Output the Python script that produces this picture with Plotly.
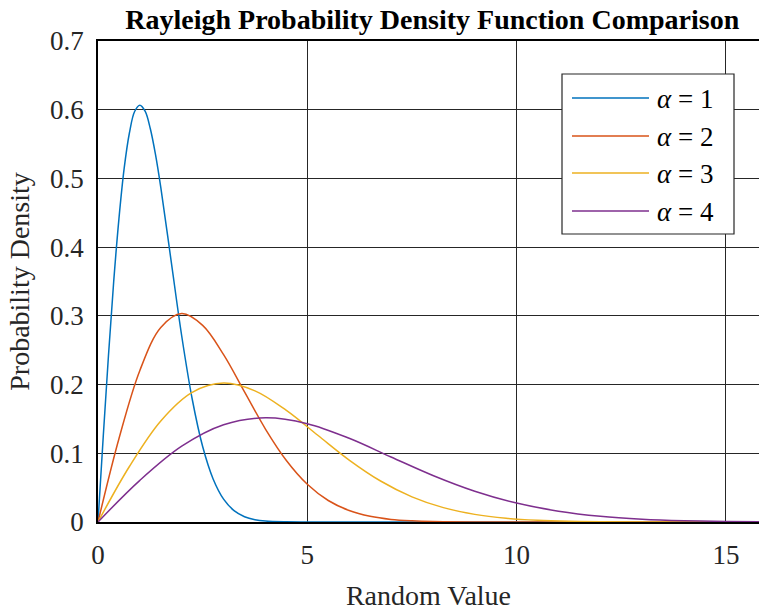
import plotly.graph_objects as go

# Rayleigh PDF samples for each scale parameter
x_a1 = [0, 0.125, 0.25, 0.375, 0.5, 0.625, 0.75, 0.875, 1.0, 1.125, 1.25, 1.375, 1.5, 1.75, 2.0, 2.25, 2.5, 2.75, 3.0, 3.25, 3.5, 3.75, 4.0, 4.5, 5.0, 6.0, 8.0, 16.0]
y_a1 = [0, 0.1240, 0.2423, 0.3500, 0.4412, 0.5145, 0.5661, 0.5974, 0.6065, 0.5978, 0.5723, 0.5342, 0.4870, 0.3785, 0.2707, 0.1790, 0.1098, 0.0627, 0.0333, 0.0165, 0.0077, 0.0033, 0.0013, 0.0002, 0, 0, 0, 0]

x_a2 = [0, 0.5, 1.0, 1.5, 2.0, 2.5, 3.0, 3.5, 4.0, 4.5, 5.0, 5.5, 6.0, 6.5, 7.0, 7.5, 8.0, 9.0, 10.0, 12.0, 16.0]
y_a2 = [0, 0.1212, 0.2206, 0.2830, 0.3033, 0.2861, 0.2435, 0.1893, 0.1353, 0.0895, 0.0549, 0.0313, 0.0167, 0.0083, 0.0038, 0.0017, 0.0007, 0.0001, 0, 0, 0]

x_a3 = [0, 0.75, 1.5, 2.25, 3.0, 3.75, 4.5, 5.25, 6.0, 6.75, 7.5, 8.25, 9.0, 9.75, 10.5, 11.25, 12.0, 13.5, 15.0, 16.0]
y_a3 = [0, 0.0808, 0.1471, 0.1887, 0.2022, 0.1908, 0.1623, 0.1262, 0.0902, 0.0597, 0.0366, 0.0209, 0.0111, 0.0055, 0.0026, 0.0011, 0.0004, 0.0001, 0, 0]

x_a4 = [0, 1, 2, 3, 4, 5, 6, 7, 8, 9, 10, 11, 12, 13, 14, 15, 16]
y_a4 = [0, 0.0606, 0.1103, 0.1415, 0.1516, 0.1431, 0.1218, 0.0946, 0.0677, 0.0448, 0.0275, 0.0157, 0.0083, 0.0041, 0.0019, 0.0008, 0.0003]

labels = ["1", "2", "3", "4"]
colors = ["#0072BD", "#D95319", "#EDB120", "#7E2F8E"]
series = [(x_a1, y_a1), (x_a2, y_a2), (x_a3, y_a3), (x_a4, y_a4)]

x_ticks = [0, 5, 10, 15]
y_ticks = [0, 0.1, 0.2, 0.3, 0.4, 0.5, 0.6, 0.7]

W, H = 759, 611
ML, MR, MT, MB = 98, 0, 41, 89
PW, PH = W - ML - MR, H - MT - MB
FONT = "Liberation Serif, Times New Roman, serif"
INK = "#262626"


def px_x(p):
    return (p - ML) / PW


def px_y(p):
    return (H - MB - p) / PH


fig = go.Figure()
for (xs, ys), c, lab in zip(series, colors, labels):
    fig.add_trace(go.Scatter(
        x=xs, y=ys, mode="lines", name=lab,
        line=dict(color=c, width=1.5, shape="spline", smoothing=1.0),
        showlegend=False,
    ))

# Boxed legend drawn in paper coordinates
shapes = [dict(type="rect", xref="paper", yref="paper",
               x0=px_x(562), x1=px_x(734), y0=px_y(234), y1=px_y(74),
               line=dict(color=INK, width=1.2), fillcolor="white", layer="above")]
annotations = []
rows = [98, 136, 173, 211]
for r, c, lab in zip(rows, colors, labels):
    shapes.append(dict(type="line", xref="paper", yref="paper",
                       x0=px_x(572), x1=px_x(649), y0=px_y(r), y1=px_y(r),
                       line=dict(color=c, width=1.5), layer="above"))
    annotations.append(dict(xref="paper", yref="paper", x=px_x(655), y=px_y(r + 1),
                            text=f"<i>α</i> = {lab}", showarrow=False,
                            xanchor="left", yanchor="middle",
                            font=dict(family=FONT, size=27, color="black")))

fig.update_layout(
    width=W, height=H,
    margin=dict(l=ML, r=MR, t=MT, b=MB),
    paper_bgcolor="white", plot_bgcolor="white",
    font=dict(family=FONT, size=27, color=INK),
    title=dict(text="<b>Rayleigh Probability Density Function Comparison</b>",
               x=0.5695, xanchor="center", y=1 - 19 / H, yanchor="middle",
               font=dict(family=FONT, size=28, color="black")),
    xaxis=dict(range=[0, 15.79], tickvals=x_ticks, ticktext=[str(v) for v in x_ticks],
               showgrid=True, gridcolor=INK, gridwidth=1.2,
               showline=True, linecolor="black", linewidth=1.5, mirror=True,
               zeroline=False, ticks="", ticklabelstandoff=8,
               tickfont=dict(family=FONT, size=27, color=INK),
               title=dict(text="Random Value", standoff=20,
                          font=dict(family=FONT, size=28, color=INK))),
    yaxis=dict(range=[0, 0.7], tickvals=y_ticks, ticktext=["0", "0.1", "0.2", "0.3", "0.4", "0.5", "0.6", "0.7"],
               showgrid=True, gridcolor=INK, gridwidth=1.2,
               showline=True, linecolor="black", linewidth=1.5,
               zeroline=False, ticks="", ticklabelstandoff=7,
               tickfont=dict(family=FONT, size=27, color=INK),
               title=dict(text="Probability Density", standoff=12,
                          font=dict(family=FONT, size=28, color=INK))),
    shapes=shapes, annotations=annotations,
)

fig.write_html("out.html")
